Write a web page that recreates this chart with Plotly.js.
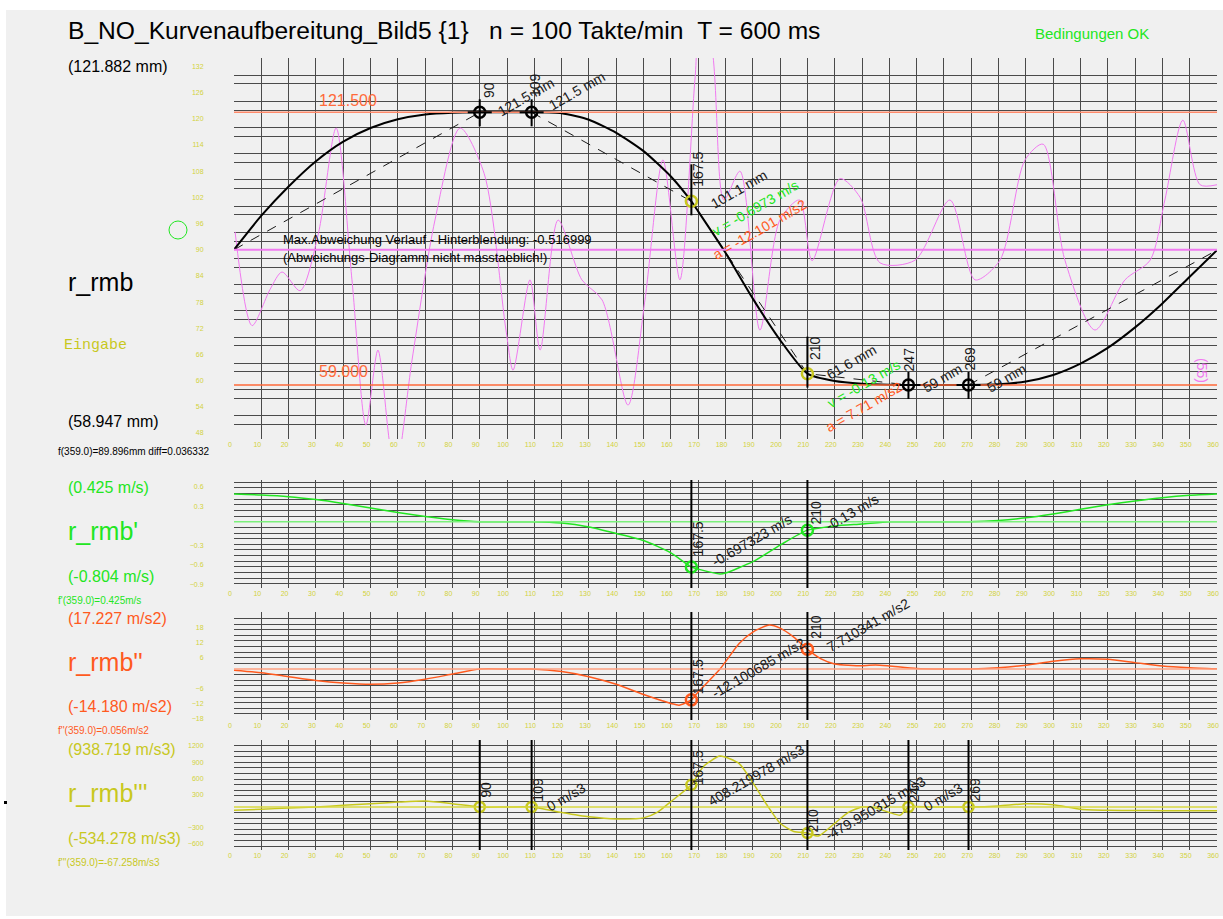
<!DOCTYPE html>
<html><head><meta charset="utf-8">
<script src="https://cdn.plot.ly/plotly-3.0.1.min.js"></script>
<style>html,body{margin:0;padding:0;background:#fff}#chart{width:1223px;height:919px}</style>
</head><body><div id="chart"></div>
<script>
// ---- cam lift r_rmb (mm) over cam angle (deg) ----
const angleR  = [0,10,20,30,40,50,60,70,80,90,100,109,120,130,140,150,160,167.5,170,180,190,200,210,220,230,240,247,260,269,280,290,300,310,320,330,340,350,360];
const radius  = [90,97.8,104.5,110.3,114.8,117.9,119.9,121.0,121.4,121.5,121.5,121.5,121.3,119.8,116.8,112.6,106.8,101.1,98.8,89.3,78.8,69.3,61.6,59.9,59.3,59.05,59,59,59,59.15,59.8,61.3,63.9,67.5,72.2,77.7,83.8,89.9];

// deviation diagram (not to scale), drawn around the 90 mm line
const angleDev = [0.4,6.6,13.2,17.6,24.2,30.8,37.4,43.2,48.3,52.7,57.1,59.3,65.2,73.6,82.8,91.6,99.6,102.2,108.4,112.1,118.7,127.4,134.8,144.3,150.5,157.1,163.3,168.8,170.7,174.3,179.4,185.3,192.6,199.9,207.1,211.7,221.9,229.3,236.6,249.4,262.2,271.4,280.5,289.7,296.3,304.3,315.3,326.3,335.5,340.9,347.5,353.8,360];
const deviation = [94.1,72.6,80.9,84.9,80.6,93.4,117.9,83.1,49.8,67.0,45.3,39.5,64.7,96.8,117.9,107.5,71.6,62.4,83.1,67.0,96.8,83.1,78.5,54.4,78.5,110.6,83.1,128.9,140,138,101.4,108,71.6,96.8,101.4,87.5,106.3,102,87,87.6,101.4,83.1,87.6,110.6,114.2,87.6,71.6,83.1,87.6,101.4,119.7,104.9,104.9];

// velocity r_rmb' (m/s)
const angleV  = [0,10,20,30,40,50,60,70,80,90,100,109,120,130,140,150,160,167.5,170,178,180,190,200,210,220,230,240,247,260,269,280,290,300,310,320,330,340,350,360];
const velocity = [0.425,0.41,0.385,0.34,0.28,0.21,0.14,0.08,0.03,0,0,0,-0.02,-0.08,-0.18,-0.29,-0.48,-0.697323,-0.73,-0.804,-0.79,-0.615,-0.36,-0.13,-0.066,-0.035,0,0,0,0,0.02,0.06,0.12,0.19,0.26,0.32,0.37,0.405,0.425];

// acceleration r_rmb'' (m/s2)
const angleA  = [0,10,20,30,40,50,60,70,80,90,100,109,120,130,140,150,160,163,167.5,170,178,185,190,196,200,205,210,215,220,230,235,240,250,260,270,280,290,300,310,320,330,340,350,360];
const accel   = [-0.5,-1.5,-3,-4.5,-5.5,-6,-5.5,-4,-2,0,0,0,-1,-3,-6,-10,-13.5,-14.18,-12.100685,-9,0,10,14.5,17.227,16,12.5,7.710341,4,2,1.3,1.6,1.2,0.2,0,0,0.5,1.5,3,4,3.8,2.5,1.2,0.5,0.056];

// jerk r_rmb''' (m/s3)
const angleJ  = [0,10,20,30,40,50,60,70,80,90,100,109,120,130,140,150,155,160,167.5,172,178,185,190,195,200,205,210,214,220,225,230,235,240,244,247,255,269,280,290,300,310,320,330,340,350,360];
const jerk    = [-60,-40,-20,0,30,60,90,110,60,0,0,0,-100,-180,-220,-200,-100,100,408.219978,750,938.719,800,450,50,-300,-450,-479.950315,-534.278,-300,-100,0,-20,-100,-150,0,0,0,20,60,40,-40,-60,-65,-67,-67,-67.258];

// marked positions
const keyAngles = [90,109,167.5,210,247,269];
const keyRadius = [121.5,121.5,101.1,61.6,59,59];
const keyVel    = [-0.697323,-0.13];
const keyVelLbl = ['-0.697323 m/s','-0.13 m/s'];
const keyAcc    = [-12.100685,7.710341];
const keyAccLbl = ['-12.100685 m/s2','7.710341 m/s2'];
const keyJerk   = [0,0,408.219978,-479.950315,0,0];
const keyJerkLbl= ['','0 m/s3','408.219978 m/s3','-479.950315 m/s3','0 m/s3',''];

const limitHigh = 121.5, limitLow = 59.0, devBase = 90;

// ---- colours / fonts ----
const GREEN = '#22e622', ORANGE = '#ff5a1e', YELLOW = '#c8c81e', MAGENTA = '#f07af0', INK = '#1a1a1a';
const TICK = '#d2d23c';
const SANS = 'Liberation Sans, Arial, sans-serif';

// pixel helpers for the 1223x919 page
const L = 234, W = 983, H = 919;
const px = x => (x - L) / W;
const py = y => 1 - y / H;

function xAxis(anchor){
  return {anchor, domain:[0,1], range:[0,360], tickmode:'linear', tick0:0, dtick:10,
    showgrid:true, gridcolor:'#4a4a4a', gridwidth:1, zeroline:false, showline:false,
    ticks:'', ticklabelshift:-4, tickfont:{family:SANS,size:7,color:TICK}, fixedrange:true};
}
function yAxis(domain, range, dtick, minorDtick, shift){
  return {domain, range, tickmode:'linear', tick0:0, dtick, showgrid:false, zeroline:false,
    showline:false, ticks:'outside', ticklen:28, tickcolor:'rgba(0,0,0,0)', ticklabelshift:shift,
    labelalias:{'0':' '},
    tickfont:{family:SANS,size:7,color:TICK},
    minor:{tickmode:'linear', tick0:0, dtick:minorDtick, showgrid:true, gridcolor:'#4a4a4a', gridwidth:1, ticks:''},
    fixedrange:true};
}
const ring = (color, size) => ({symbol:'circle-open', size, color, line:{width:2.5, color}});

const traces = [];
// main chart
traces.push({x:angleDev, y:deviation, mode:'lines', line:{color:MAGENTA,width:1,shape:'spline',smoothing:0.8}, xaxis:'x', yaxis:'y'});
traces.push({x:[0,90], y:[radius[0],keyRadius[0]], mode:'lines', line:{color:INK,width:1,dash:'10px,9px'}, xaxis:'x', yaxis:'y'});
traces.push({x:[109,167.5,210,247], y:[keyRadius[1],keyRadius[2],keyRadius[3],keyRadius[4]], mode:'lines', line:{color:INK,width:1,dash:'10px,9px'}, xaxis:'x', yaxis:'y'});
traces.push({x:[269,360], y:[keyRadius[5],radius[radius.length-1]], mode:'lines', line:{color:INK,width:1,dash:'10px,9px'}, xaxis:'x', yaxis:'y'});
traces.push({x:angleR, y:radius, mode:'lines', line:{color:'#000',width:2,shape:'spline',smoothing:0.6}, xaxis:'x', yaxis:'y'});
traces.push({x:[keyAngles[0],keyAngles[1],keyAngles[4],keyAngles[5]], y:[keyRadius[0],keyRadius[1],keyRadius[4],keyRadius[5]], mode:'markers',
  marker:ring('#000',11), xaxis:'x', yaxis:'y'});
traces.push({x:[keyAngles[2],keyAngles[3]], y:[keyRadius[2],keyRadius[3]], mode:'markers', marker:ring(YELLOW,11), xaxis:'x', yaxis:'y'});
// velocity
traces.push({x:angleV, y:velocity, mode:'lines', line:{color:GREEN,width:1.5,shape:'spline',smoothing:0.6}, xaxis:'x2', yaxis:'y2'});
traces.push({x:[167.5,210], y:keyVel, mode:'markers', marker:ring(GREEN,11), xaxis:'x2', yaxis:'y2'});
// acceleration
traces.push({x:angleA, y:accel, mode:'lines', line:{color:ORANGE,width:1.5,shape:'spline',smoothing:0.6}, xaxis:'x3', yaxis:'y3'});
traces.push({x:[167.5,210], y:keyAcc, mode:'markers', marker:ring(ORANGE,11), xaxis:'x3', yaxis:'y3'});
// jerk
traces.push({x:angleJ, y:jerk, mode:'lines', line:{color:YELLOW,width:1.5,shape:'spline',smoothing:0.6}, xaxis:'x4', yaxis:'y4'});
traces.push({x:keyAngles, y:keyJerk, mode:'markers', marker:ring(YELLOW,10), xaxis:'x4', yaxis:'y4'});
traces.forEach(t => { t.type = 'scatter'; t.hoverinfo = 'skip'; t.showlegend = false; });

const shapes = [];
// page panel
shapes.push({type:'rect', xref:'paper', yref:'paper', x0:px(6), x1:px(1223), y0:py(916), y1:py(10), fillcolor:'#f0f0f0', line:{width:0}, layer:'below'});
shapes.push({type:'rect', xref:'paper', yref:'paper', x0:px(4), x1:px(7), y0:py(804), y1:py(801), fillcolor:'#000', line:{width:0}});
// reference lines
const hline = (yref, y, color, width) => ({type:'line', xref:'x domain', yref, x0:0, x1:1, y0:y, y1:y, line:{color, width}, layer:'above'});
shapes.push(hline('y', limitHigh, '#ff8a6a', 1.5));
shapes.push(hline('y', limitLow, '#ff6a3a', 1.5));
shapes.push(hline('y', devBase, MAGENTA, 2));
shapes.push(hline('y2', 0, '#7cf07c', 1.5));
shapes.push(hline('y3', 0, '#ffa080', 1.5));
shapes.push(hline('y4', 0, '#d8d840', 1.5));
// crosshair ticks on the lift curve
keyAngles.forEach((a, i) => {
  shapes.push({type:'line', xref:'x', yref:'y', x0:a, x1:a, ysizemode:'pixel', yanchor:keyRadius[i], y0:-14, y1:(i===2||i===3)?37:13, line:{color:'#000',width:2}});
  if (i !== 2 && i !== 3)
    shapes.push({type:'line', xref:'x', yref:'y', xsizemode:'pixel', xanchor:a, x0:-12, x1:12, y0:keyRadius[i], y1:keyRadius[i], line:{color:'#000',width:2}});
});
// full-height markers in the derivative charts
[167.5,210].forEach(a => {
  ['y2','y3'].forEach(ya => shapes.push({type:'line', xref:ya.replace('y','x'), yref:ya+' domain', x0:a, x1:a, y0:0, y1:1, line:{color:'#000',width:2}}));
});
keyAngles.forEach(a => shapes.push({type:'line', xref:'x4', yref:'y4 domain', x0:a, x1:a, y0:0, y1:1, line:{color:'#000',width:2}}));
// input marker circle
shapes.push({type:'circle', xref:'paper', yref:'paper', x0:px(169), x1:px(187), y0:py(239), y1:py(221), line:{color:GREEN,width:1}});

const ann = [];
function page(text, x, y, size, color, opts){
  ann.push(Object.assign({text, xref:'paper', yref:'paper', x:px(x), y:py(y), xanchor:'left', yanchor:'middle', showarrow:false,
    font:{family:SANS, size, color}}, opts||{}));
}
function mark(text, xa, ya, x, y, dx, dy, angle, color, size){
  ann.push({text, xref:xa, yref:ya, x, y, xshift:dx, yshift:dy, textangle:angle, xanchor:'center', yanchor:'middle', showarrow:false,
    font:{family:SANS, size:size||14, color:color||INK}});
}

page('B_NO_Kurvenaufbereitung_Bild5 {1}&nbsp;&nbsp;&nbsp;n = 100 Takte/min&nbsp;&nbsp;T = 600 ms', 66, 30, 24.6, '#000');
page('Bedingungen OK', 1033, 33, 15, GREEN);
page('(121.882 mm)', 66, 67, 16, '#000');
page('r_rmb', 66, 282, 25, '#000');
page('Eingabe', 62, 346, 15, YELLOW, {font:{family:'Liberation Mono, Courier New, monospace', size:15, color:YELLOW}});
page('(58.947 mm)', 66, 421, 16, '#000');
page('f(359.0)=89.896mm diff=0.036332', 56, 451, 10, '#000');
page('(0.425 m/s)', 66, 488, 16, GREEN);
page("r_rmb'", 66, 531, 25, GREEN);
page('(-0.804 m/s)', 66, 576, 16, GREEN);
page("f'(359.0)=0.425m/s", 56, 600, 10, GREEN);
page('(17.227 m/s2)', 66, 618, 16, ORANGE);
page("r_rmb''", 66, 662, 25, ORANGE);
page('(-14.180 m/s2)', 66, 706, 16, ORANGE);
page("f''(359.0)=0.056m/s2", 56, 730, 10, ORANGE);
page('(938.719 m/s3)', 66, 749, 16, YELLOW);
page("r_rmb'''", 66, 793, 25, YELLOW);
page('(-534.278 m/s3)', 66, 838, 16, YELLOW);
page("f'''(359.0)=-67.258m/s3", 56, 862, 10, YELLOW);
page('121.500', 317, 100, 16, '#ff6a3a');
page('59.000', 317, 371, 16, '#ff6a3a');
page('Max.Abweichung Verlauf - Hinterblendung: -0.516999', 281, 240, 13, '#000');
page('(Abweichungs-Diagramm nicht masstaeblich!)', 281, 258, 13, '#000');
ann.push({text:'(55)', xref:'paper', yref:'paper', x:px(1212), y:py(370), textangle:90, showarrow:false, font:{family:SANS,size:14,color:MAGENTA}});

// lift curve labels
const vOff = [[10,22],[4,27],[7,32],[7,26],[1,26],[1,26]];
keyAngles.forEach((a,i) => mark(String(a), 'x', 'y', a, keyRadius[i], vOff[i][0], vOff[i][1], -90));
const mmOff = [[46,15],[45,21],[48,12],[44,12],[34,7],[38,7]];
keyAngles.forEach((a,i) => mark(keyRadius[i] + ' mm', 'x', 'y', a, keyRadius[i], mmOff[i][0], mmOff[i][1], -30));
mark('v = -0.6973 m/s', 'x', 'y', 167.5, keyRadius[2], 64, -7, -30, GREEN);
mark('a = -12.101 m/s2', 'x', 'y', 167.5, keyRadius[2], 69, -28, -30, ORANGE);
mark('v = -0.13 m/s', 'x', 'y', 210, keyRadius[3], 56, -10, -30, GREEN);
mark('a = 7.71 m/s2', 'x', 'y', 210, keyRadius[3], 56, -33, -30, ORANGE);
// velocity labels
mark('167.5', 'x2', 'y2', 167.5, keyVel[0], 7, 28, -90);
mark(keyVelLbl[0], 'x2', 'y2', 167.5, keyVel[0], 61, 27, -30);
mark('210', 'x2', 'y2', 210, keyVel[1], 9, 18, -90);
mark(keyVelLbl[1], 'x2', 'y2', 210, keyVel[1], 45, 18, -30);
// acceleration labels
mark('167.5', 'x3', 'y3', 167.5, keyAcc[0], 6, 23, -90);
mark(keyAccLbl[0], 'x3', 'y3', 167.5, keyAcc[0], 67, 32, -30);
mark('210', 'x3', 'y3', 210, keyAcc[1], 9, 23, -90);
mark(keyAccLbl[1], 'x3', 'y3', 210, keyAcc[1], 61, 24, -30);
// jerk labels
keyAngles.forEach((a,i) => {
  mark(String(a), 'x4', 'y4', a, keyJerk[i], 6, i===3?13:17, -90);
  if (keyJerkLbl[i]) {
    const w = keyJerkLbl[i].length * 3.4;
    mark(keyJerkLbl[i], 'x4', 'y4', a, keyJerk[i], 14 + w, (i===3?25:10), -30);
  }
});

const layout = {
  width:1223, height:919, margin:{l:L, r:1223-L-W, t:0, b:0},
  paper_bgcolor:'#ffffff', plot_bgcolor:'rgba(0,0,0,0)', showlegend:false, hovermode:false,
  xaxis:xAxis('y'), xaxis2:xAxis('y2'), xaxis3:xAxis('y3'), xaxis4:xAxis('y4'),
  yaxis: yAxis([1-439/H, 1-58/H], [46.62,133.95], 6, 2, 0),
  yaxis2:yAxis([1-588/H, 1-480/H], [-1.02,0.6415], 0.3, 0.087, 4),
  yaxis3:yAxis([1-720/H, 1-612/H], [-20.0,22.35], 6, 2.2, 4),
  yaxis4:yAxis([1-850/H, 1-740/H], [-792,1234], 300, 103, 4),
  shapes, annotations:ann
};
layout.yaxis.labelalias = {};
Plotly.newPlot('chart', traces, layout, {staticPlot:true, displayModeBar:false});
</script></body></html>
